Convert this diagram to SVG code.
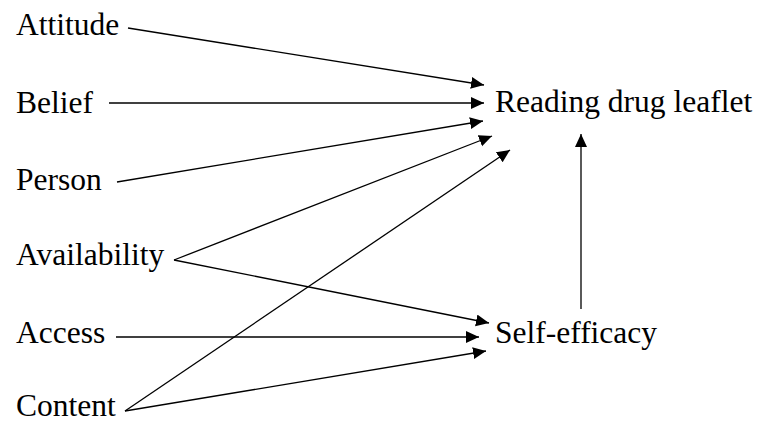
<svg xmlns="http://www.w3.org/2000/svg" width="761" height="422" viewBox="0 0 761 422">
<style>
.c line{stroke:#000;stroke-width:1.3;marker-end:url(#ah)}
</style>
<defs>
<marker id="ah" markerUnits="userSpaceOnUse" markerWidth="14" markerHeight="13" refX="13" refY="6" orient="auto">
<path d="M0,0 L13,6 L0,12 z" fill="#000"/>
</marker>
</defs>
<rect width="761" height="422" fill="#fff"/>
<g font-family="Liberation Serif, DejaVu Serif, serif" font-size="31.5" fill="#000">
<g id="attitude"><text x="16" y="35">Attitude</text></g>
<g id="belief"><text x="16" y="113">Belief</text></g>
<g id="person"><text x="16" y="190">Person</text></g>
<g id="availability"><text x="16" y="265">Availability</text></g>
<g id="access"><text x="16" y="343">Access</text></g>
<g id="content"><text x="16" y="416">Content</text></g>
<g id="reading"><text x="495" y="112">Reading drug leaflet</text></g>
<g id="selfefficacy"><text x="495" y="343">Self-efficacy</text></g>
</g>
<g class="c" id="connectors">
<line x1="128" y1="28" x2="484" y2="85"/>
<line x1="109" y1="103" x2="484" y2="103"/>
<line x1="117" y1="182" x2="483" y2="121"/>
<line x1="174" y1="260" x2="492" y2="136"/>
<line x1="125" y1="411" x2="510" y2="150"/>
<line x1="174" y1="260" x2="489" y2="323"/>
<line x1="116" y1="337" x2="479" y2="337"/>
<line x1="125" y1="411" x2="486" y2="351"/>
<line x1="581" y1="309" x2="581" y2="134"/>
</g>
</svg>
